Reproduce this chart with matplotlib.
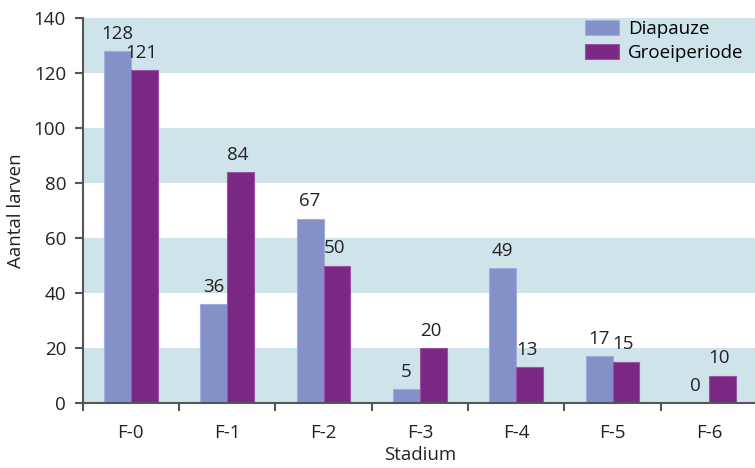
import matplotlib
matplotlib.use("Agg")
import matplotlib.pyplot as plt
import numpy as np

# Larval stages and counts per period
stadia = ["F-0", "F-1", "F-2", "F-3", "F-4", "F-5", "F-6"]
diapauze = [128, 36, 67, 5, 49, 17, 0]
groeiperiode = [121, 84, 50, 20, 13, 15, 10]
y_ticks = [0, 20, 40, 60, 80, 100, 120, 140]

plt.rcParams["font.family"] = ["Open Sans", "DejaVu Sans"]

col_dia = "#8490c8"
col_groei = "#7b2884"
band = "#cfe4ea"
axis_col = "#555555"
text_col = "#222222"
fs = 13.5

fig = plt.figure(figsize=(7.55, 4.68), dpi=100)
ax = fig.add_axes([82.7 / 755, 1 - 403 / 468, (757 - 82.7) / 755, 385 / 468])

# alternating horizontal bands
for lo in range(0, 140, 40):
    ax.axhspan(lo, lo + 20, color=band, zorder=0, lw=0)

x = np.arange(len(stadia))
w = 0.28
b1 = ax.bar(x - w / 2, diapauze, w, color=col_dia, edgecolor="#a3abd8",
            linewidth=0.8, label="Diapauze", zorder=2)
b2 = ax.bar(x + w / 2, groeiperiode, w, color=col_groei, edgecolor="#9a52a2",
            linewidth=0.8, label="Groeiperiode", zorder=2)

for bars, vals, dx in ((b1, diapauze, 0), (b2, groeiperiode, -2)):
    for r, v in zip(bars, vals):
        ax.annotate(str(v), (r.get_x() + r.get_width() / 2, v),
                    xytext=(dx, 6), textcoords="offset points",
                    ha="center", va="bottom", fontsize=fs, color=text_col)

ax.set_xlim(-0.5, 6.5)
ax.set_ylim(0, 140)
ax.set_yticks(y_ticks)
ax.set_yticklabels([str(t) for t in y_ticks], fontsize=fs, color=text_col)
ax.set_xticks(x)
ax.set_xticklabels(stadia, fontsize=fs, color=text_col)
ax.set_xticks(np.arange(-0.5, 6.5, 1.0), minor=True)
ax.tick_params(axis="x", which="major", length=0, pad=15)
ax.tick_params(axis="x", which="minor", length=6, width=1.5, color=axis_col)
ax.tick_params(axis="y", length=6, width=1.5, color=axis_col, pad=6)

for s in ("top", "right"):
    ax.spines[s].set_visible(False)
for s in ("left", "bottom"):
    ax.spines[s].set_color(axis_col)
    ax.spines[s].set_linewidth(1.5)

ax.set_ylabel("Aantal larven", fontsize=fs, color=text_col, labelpad=6)
ax.set_xlabel("Stadium", fontsize=fs, color=text_col, labelpad=3)

ax.legend(loc="upper right", frameon=False, fontsize=fs, handlelength=1.8,
          handleheight=0.9, handletextpad=0.5, labelspacing=0.3,
          borderaxespad=0.2, bbox_to_anchor=(0.997, 1.025))

fig.savefig("out.png", dpi=100)
